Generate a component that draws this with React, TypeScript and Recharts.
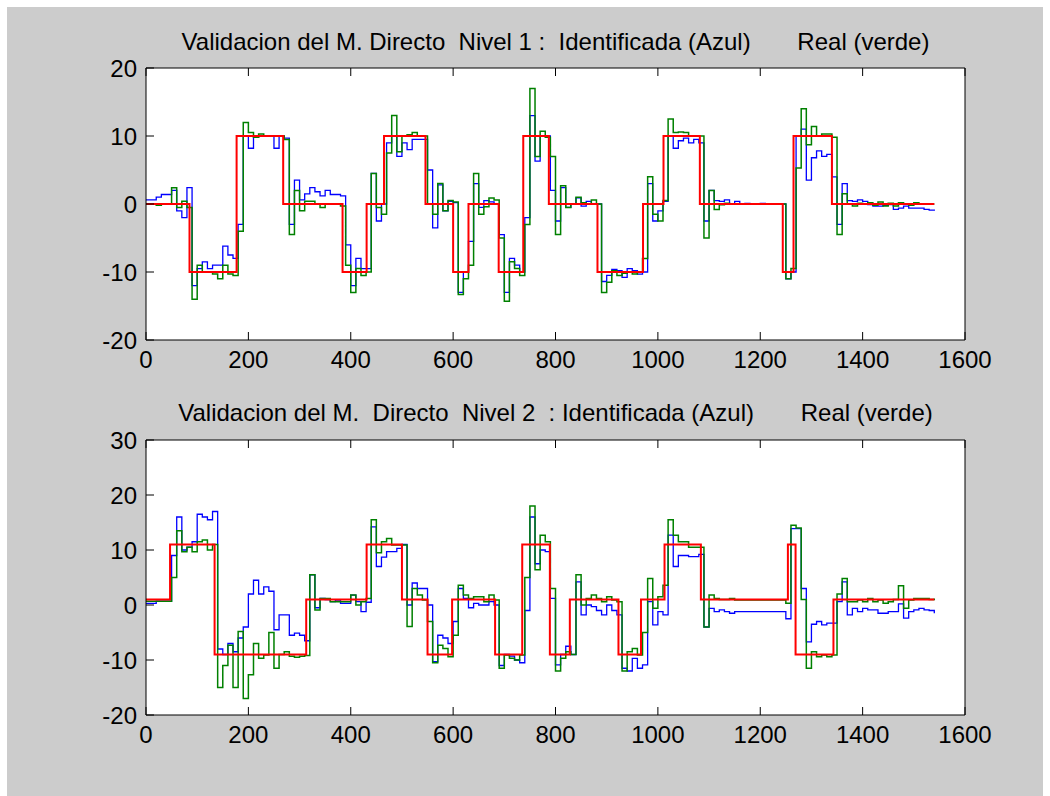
import React from "react";
import { LineChart, Line, XAxis, YAxis } from "recharts";

// sample grid of the measured signals (one value every 10 samples)
const PASO = 10;

const azul1 = [
  0.6, 0.6, 1.0, 1.4, 1.4, 2.0, -1, -2, 2.4, -12,
  -9.5, -8.5, -9.5, -9, -9, -6.2, -7.5, -8, -3, 10,
  8.2, 9.8, 10, 10, 10, 8.2, 10, 9.7, -3, 3.5,
  0.6, 1.5, 2.4, 1.8, 1.2, 2, 1.4, 1.4, 1.2, -6,
  -12, -8, -9.5, -9.5, 4.5, -2.5, 0, 9, 10, 7,
  9, 8, 9.5,
  9.5, 9.5, 5, -3.5, 2.8, -1, 0.4, 0.2, -13, -10,
  -5.5, 3, -0.5, 0.5, 0.3, 0, -4.5, -13, -8, -9,
  -10, -2, 13, 6.3, 10, 10, 2, -2.5, 2.4, -0.5,
  0, 0.9, -0.3, 0.4, 0, 0, -11.4, -10.5, -9.6, -9.8,
  -10.8, -9.5, -9.8, -10.3, -10, 3, -2.5, -1, 0.4, 10,
  8.2, 9.3, 9.7,
  9, 9.5, 9, -2.5, 2, 0.5, 0.4, 0.6, 0, 0.4,
  0, 0.1, 0, 0, 0.1, 0, 0, 0, 0, -11,
  -10, 10, 11, 3.5, 6.8, 7.8, 7, 7.3, 4, -3,
  3, 0.5, 0.4, 0.6, 0.4, -0.1, -0.3, -0.3, -0.2, -0.1,
  -0.8, -0.6, -0.3, -0.6, -0.6, -0.6, -0.8, -0.9, -1,
];

const verde1 = [
  0, 0, -0.2, 0, 0, 2.4, -0.5, 0.4, -0.5, -14,
  -9, -10, -10, -10.3, -11, -9, -10.3, -10.5, -4, 12,
  10.5, 9.8, 10.3, 10, 10, 10, 10, 9.5, -4.5, 2,
  -1, 0.4, 0.4, 0, -0.5, 0, 0, 0, -0.3, -9,
  -13, -9.5, -10.5, -10, 4.5, -0.5, -1.5, 7.5, 13, 7.7,
  10, 10.2, 10.5,
  10, 10, 0, -1.5, 3, -1, 0.5, 0.3, -13.3, -11,
  -9, 4.5, -1.5, -0.4, 0.9, 0.6, -5, -14.3, -8.5, -9.5,
  -10.5, -3, 17, 7, 10.7, 9.8, 7, -4.5, 2.7, -0.5,
  0, 1, 0.2, 0, 0.6, 0, -13, -11.5, -9.8, -10.5,
  -10.2, -10, -10.3, -10, -8, 4, -1.5, -2.5, 0.5, 12.5,
  10.5, 10.6, 10.5,
  10, 10, 10, -5, 2, -0.8, -0.1, 0.1, 0, 0,
  0, 0, 0, 0, 0, 0, 0, 0, 0, -11,
  -9.5, 5.3, 14, 8.7, 11.4, 10, 10.3, 10.3, 9.8, -4.5,
  1.5, 0, -0.3, 0.1, 0, 0.2, -0.2, 0.3, -0.3, 0.1,
  -0.3, 0.2, 0, -0.2, 0.2, 0, 0, 0, 0,
];

const azul2 = [
  0.3, 0.3, 0.7, 0.7, 0.7, 9, 16, 10, 10.5, 11.5,
  16.5, 16, 15.5, 17, -8, -9, -7, -8.5, -6, -4,
  2, 4.5, 2, 3.3, 2.5, -4.5, -1.8, -1.8, -5.5, -5.1,
  -5.5, -6.5, 5.5, -0.5, 1.2, 1, 0.6, 0.9, 0.3, 0.3,
  1.8, 0.6, -1.2, 0.5, 14.2, 7, 8.7, 9.7, 9.7, 10.3,
  11, 0, 4, 3,
  3, 0, -10.3, -5.5, -6, -7, -3, 3, 1.2, -0.5,
  0.3, 0, 0, 0.6, 0, -11, -9, -9.3, -10, -10.5,
  -1, 16, 7.5, 10, 9.7, 1.2, -10.9, -9, -7.5, -9,
  4.2, -1.8, 0, -0.3, -1, -1.8, 0, -1, -1.8, -11.5,
  -12, -9.7, -11.5, -10.9, 0.6, -3.6, -1.2, -1.8, 12.7, 7,
  9, 9,
  8.8, 8.8, 9.2, -4, -0.6, -1.2, -0.9, -1.2, -1.5, -1.2,
  -1.2, -1.2, -1.2, -1.2, -1.2, -1.2, -1.2, -1.2, -1.2, -2.5,
  13.9, 13.9, 3, -6.7, -3.5, -3, -3.6, -3.3, -3.3, 0.6,
  4.2, -1.8, -0.6, -1.2, -0.6, -0.9, -0.9, -1.5, -1.5, -1.2,
  -1.2, 0.2, -2.4, -1.2, -0.9, -0.6, -0.9, -1, -1.5,
];

const verde2 = [
  0.7, 0.7, 0.7, 0.7, 0.7, 5, 13.5, 9.7, 10.5, 9.7,
  11.5, 11.8, 10, 11, -15, -11, -7.3, -15, -4.8, -17,
  -12.7, -7, -9.7, -9.1, -5, -11.5, -9, -8.5, -9.3, -9.5,
  -9.3, -9.2, 5.5, -0.9, 1.2, 1.2, 0.6, 0.6, 0.6, 0.6,
  1.8, 0, 0.6, 1.2, 15.5, 9.5, 11.5, 12.1, 10.9, 10.9,
  10.9, -3.9, 3, 1.8,
  0.9, -3, -10.5, -7.3, -7.9, -9.4, -5.5, 3.6, 1.8, 1.2,
  1.5, 1.5, 0.6, 1.8, 0.9, -11.5, -9.1, -9.7, -10, -9.1,
  5, 18, 6.4, 12.7, 11.5, 3, -12, -9.7, -8.5, -9,
  5.5, 0, 1.2, 1.8, 1.2, 0.6, 1.5, 0.9, 0.6, -12,
  -8.5, -7.9, -9.1, -5, 4.8, -0.6, 1.5, 3.6, 15.5, 12.7,
  11.5, 11.5,
  10.5, 10.5, 10.5, -4, 1.8, 1.2, 1, 1, 1.2, 0.9,
  0.9, 0.9, 0.9, 0.9, 0.9, 0.9, 0.9, 0.9, 0.9, 0.3,
  14.5, 14, 1, -11.5, -8.5, -9.4, -9.1, -9.4, -9.1, 2,
  4.8, 0.6, 0.6, 0.9, 0.6, 1.2, 0.6, 0.9, 0.3, 0.6,
  1, 3.5, -0.6, 0.9, 1.2, 1.2, 1.2, 1, 1.2,
];

// reference (red) steps: switching instants and levels
const refT1 = [0, 85, 177, 268, 384, 431, 465, 546, 600, 630, 689, 737, 787, 882, 971, 1011, 1082, 1244, 1265, 1340, 1540];
const refV1 = [0, -10, 10, 0, -10, 0, 10, 0, -10, 0, -10, 10, 0, -10, 0, 10, 0, -10, 10, 0, 0];
const refT2 = [0, 47, 134, 313, 431, 500, 550, 598, 682, 735, 789, 828, 923, 967, 1013, 1084, 1254, 1269, 1343, 1540];
const refV2 = [1, 11, -9, 1, 11, 1, -9, 1, -9, 11, -9, 1, -9, 1, 11, 1, 11, -9, 1, 1];

const xTicks = [0, 200, 400, 600, 800, 1000, 1200, 1400, 1600];
const yTicks1 = [-20, -10, 0, 10, 20];
const yTicks2 = [-20, -10, 0, 10, 20, 30];

const titulo1 = "Validacion del M. Directo  Nivel 1 :  Identificada (Azul)       Real (verde)";
const titulo2 = "Validacion del M.  Directo  Nivel 2  : Identificada (Azul)       Real (verde)";

const FONT = "'Liberation Sans', Arial, sans-serif";
const tickStyle = { fontSize: 24, fill: "#000", fontFamily: FONT };

function Panel({ top, height, margin, azul, verde, refT, refV, yDomain, yTicks }: any) {
  const rows = azul.map((b: number, i: number) => ({ t: i * PASO, b, g: verde[i] }));
  const refRows = refT.map((t: number, i: number) => ({ t, r: refV[i] }));
  return (
    <div style={{ position: "absolute", left: 0, top, width: 1050, height }}>
      <LineChart width={1050} height={height} data={rows} margin={margin}>
        <rect x={0} y={0} width={0} height={0} />
        <XAxis
          dataKey="t"
          type="number"
          domain={[0, 1600]}
          ticks={xTicks}
          interval={0}
          height={30}
          tickSize={-8}
          tickMargin={19}
          stroke="#000"
          tick={tickStyle}
          allowDataOverflow
        />
        <XAxis
          xAxisId="top"
          orientation="top"
          dataKey="t"
          type="number"
          domain={[0, 1600]}
          ticks={xTicks}
          interval={0}
          height={20}
          tickSize={-8}
          stroke="#000"
          tickFormatter={() => ""}
        />
        <YAxis
          type="number"
          domain={yDomain}
          ticks={yTicks}
          interval={0}
          width={60}
          tickSize={-8}
          tickMargin={17}
          stroke="#000"
          tick={tickStyle}
          allowDataOverflow
        />
        <YAxis
          yAxisId="right"
          orientation="right"
          type="number"
          domain={yDomain}
          ticks={yTicks}
          interval={0}
          width={20}
          tickSize={-8}
          stroke="#000"
          tickFormatter={() => ""}
        />
        <Line type="stepAfter" dataKey="b" stroke="#0000ff" strokeWidth={1.3} dot={false} activeDot={false} isAnimationActive={false} />
        <Line type="stepAfter" dataKey="g" stroke="#008000" strokeWidth={1.5} dot={false} activeDot={false} isAnimationActive={false} />
        <Line type="stepAfter" data={refRows} dataKey="r" stroke="#ff0000" strokeWidth={2} dot={false} activeDot={false} isAnimationActive={false} />
      </LineChart>
    </div>
  );
}

export default function App() {
  const titleStyle: React.CSSProperties = {
    position: "absolute",
    left: 146,
    width: 819,
    textAlign: "center",
    whiteSpace: "pre",
    fontFamily: FONT,
    fontSize: 24,
    lineHeight: "24px",
    color: "#000",
  };
  return (
    <div style={{ position: "absolute", left: 0, top: 0, width: 1050, height: 796, background: "#fff" }}>
      <div style={{ position: "absolute", left: 7, top: 7, width: 1036, height: 789, background: "#cccccc" }} />
      {/* white plot areas */}
      <div style={{ position: "absolute", left: 146, top: 68, width: 819, height: 272, background: "#fff" }} />
      <div style={{ position: "absolute", left: 146, top: 440, width: 819, height: 275, background: "#fff" }} />
      <div style={{ ...titleStyle, top: 30 }}>{titulo1}</div>
      <div style={{ ...titleStyle, top: 401 }}>{titulo2}</div>
      <Panel
        top={0}
        height={400}
        margin={{ top: 48, right: 65, bottom: 30, left: 86 }}
        azul={azul1}
        verde={verde1}
        refT={refT1}
        refV={refV1}
        yDomain={[-20, 20]}
        yTicks={yTicks1}
      />
      <Panel
        top={400}
        height={396}
        margin={{ top: 20, right: 65, bottom: 51, left: 86 }}
        azul={azul2}
        verde={verde2}
        refT={refT2}
        refV={refV2}
        yDomain={[-20, 30]}
        yTicks={yTicks2}
      />
    </div>
  );
}
